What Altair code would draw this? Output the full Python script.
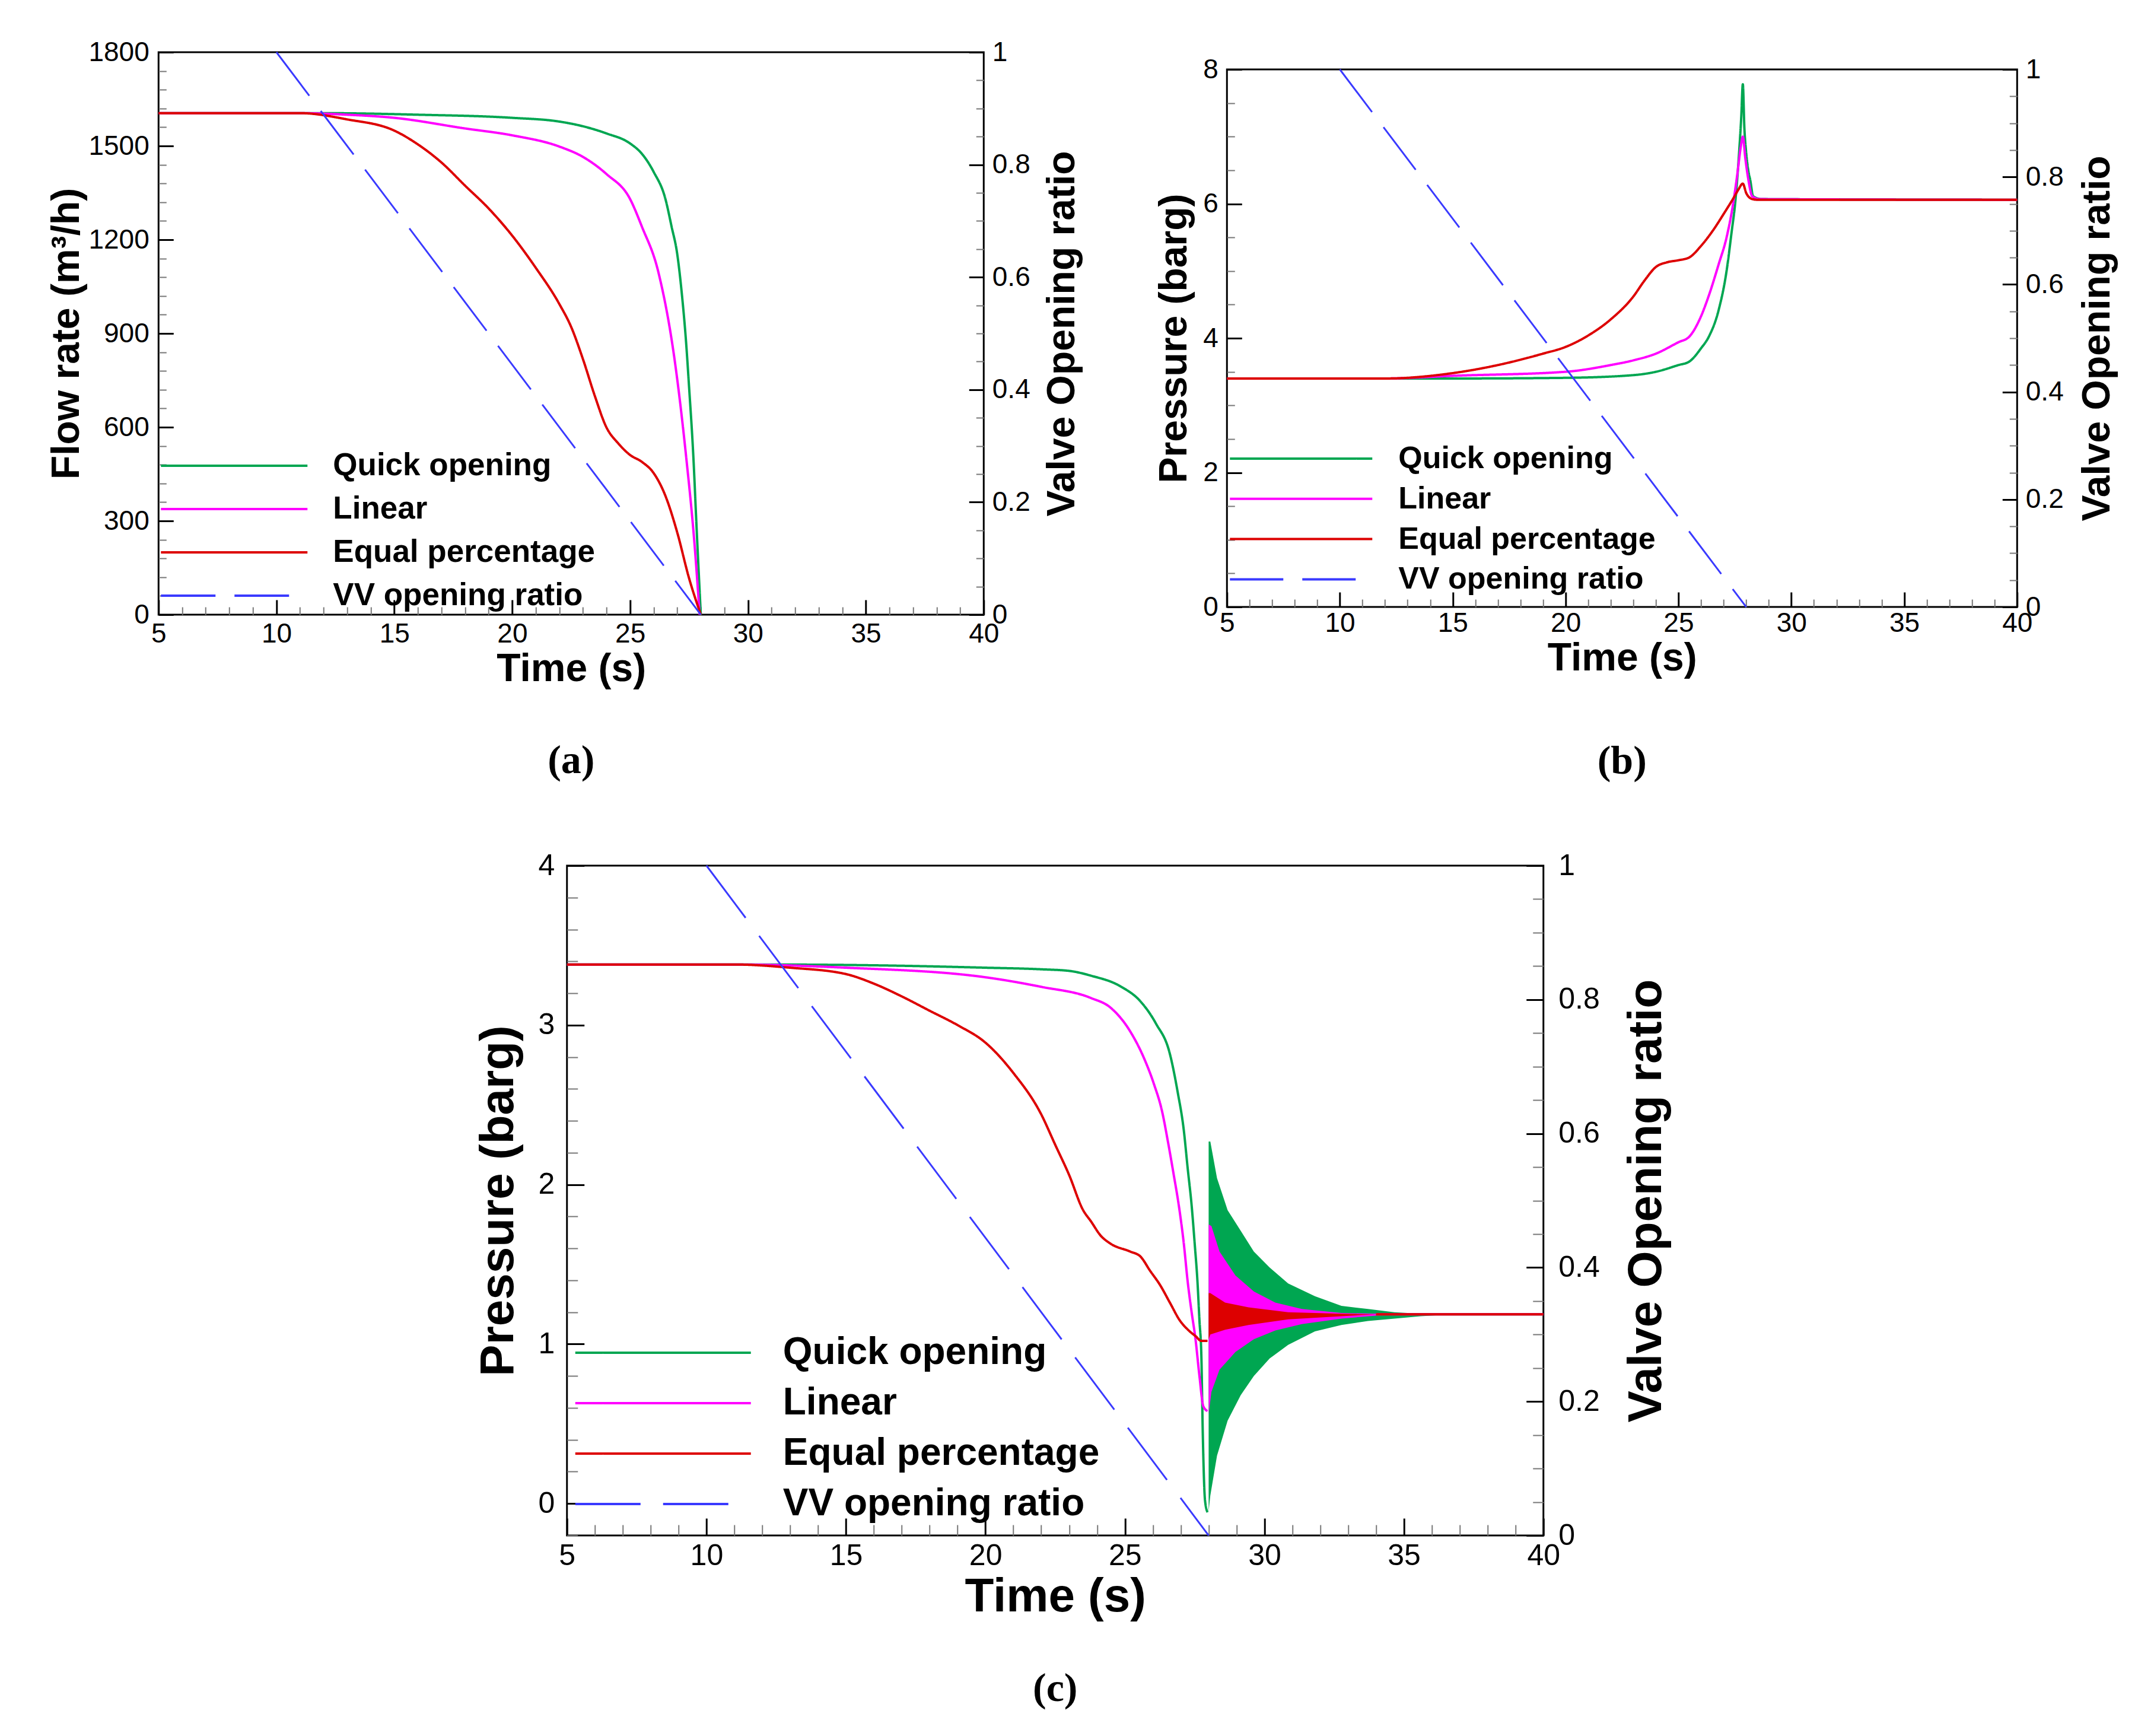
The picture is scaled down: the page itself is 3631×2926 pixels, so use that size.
import altair as alt
import pandas as pd

SERIES = ["Quick opening", "Linear", "Equal percentage", "VV opening ratio"]
COLORS = ["#00A651", "#FF00FF", "#DD0000", "#3A3AFF"]
FONT = "Liberation Sans, Arial, sans-serif"
SERIF = "Liberation Serif, DejaVu Serif, serif"

# valve opening ratio, same in every panel
vv_t = [10, 28]
vv_r = [1.0, 0.0]

# (a) flow rate, m3/h
a_quick_t = [5, 12, 16, 20, 22, 23, 24, 25, 25.5, 26, 26.5, 26.76, 27, 27.2, 27.37, 27.5, 27.68, 27.83, 28]
a_quick_v = [1605, 1605, 1600, 1590, 1578, 1563, 1540, 1508, 1475, 1417, 1330, 1242, 1154, 1023, 877, 731, 511, 263, 0]
a_lin_t = [5, 11, 13, 15, 18, 20, 22, 23, 24, 25, 25.5, 26.2, 26.91, 27.37, 27.74, 27.95]
a_lin_v = [1605, 1605, 1600, 1590, 1556, 1534, 1498, 1465, 1410, 1330, 1242, 1096, 804, 511, 219, 0]
a_eq_t = [5, 11, 13, 15, 16, 17, 18, 19, 20, 21, 22, 22.5, 23, 23.5, 24, 24.5, 25, 25.5, 26, 26.5, 27, 27.5, 28]
a_eq_v = [1605, 1605, 1585, 1549, 1505, 1447, 1373, 1300, 1213, 1110, 994, 921, 818, 701, 599, 548, 511, 489, 453, 380, 263, 117, 0]

# (b) pressure, barg
b_quick_t = [5, 15, 20, 23, 24, 25, 25.47, 26, 26.34, 26.78, 27.13, 27.35, 27.52, 27.69, 27.78, 27.85, 27.92, 27.99, 28.1, 28.18, 28.31, 28.7, 40]
b_quick_v = [3.40, 3.40, 3.41, 3.45, 3.50, 3.60, 3.65, 3.85, 4.02, 4.42, 5.00, 5.57, 6.04, 6.79, 7.29, 7.78, 7.12, 6.79, 6.48, 6.35, 6.11, 6.07, 6.06]
b_lin_t = [5, 12, 15, 20, 22, 23, 24, 25, 25.47, 25.99, 26.34, 26.78, 27.13, 27.39, 27.61, 27.76, 27.85, 27.96, 28.1, 28.27, 28.6, 40]
b_lin_v = [3.40, 3.40, 3.44, 3.50, 3.60, 3.67, 3.77, 3.94, 4.02, 4.32, 4.63, 5.10, 5.50, 5.94, 6.45, 6.85, 7.00, 6.68, 6.35, 6.11, 6.07, 6.06]
b_eq_t = [5, 12, 15, 17, 19, 20, 21, 22, 23, 23.5, 24, 24.5, 25, 25.47, 25.99, 26.52, 27.04, 27.48, 27.65, 27.85, 28.0, 28.27, 28.5, 40]
b_eq_v = [3.40, 3.40, 3.48, 3.60, 3.77, 3.87, 4.04, 4.28, 4.62, 4.86, 5.06, 5.13, 5.16, 5.20, 5.37, 5.60, 5.87, 6.11, 6.21, 6.30, 6.16, 6.07, 6.06, 6.06]

# (c) pressure, barg, with the oscillation envelopes after closure
c_quick_t = [5, 12, 16, 20, 22, 23, 23.78, 24.84, 25.55, 26.11, 26.61, 26.89, 27.11, 27.25, 27.39, 27.5, 27.6, 27.67, 27.74, 27.79, 27.87, 27.96]
c_quick_v = [3.38, 3.38, 3.375, 3.36, 3.35, 3.34, 3.31, 3.243, 3.15, 3.01, 2.82, 2.58, 2.34, 2.10, 1.87, 1.63, 1.39, 1.15, 0.92, 0.44, 0.02, -0.055]
c_lin_t = [5, 11, 15, 20, 22, 23.78, 24.48, 25.19, 25.69, 26.04, 26.33, 26.54, 26.75, 26.93, 27.11, 27.25, 27.39, 27.53, 27.67, 27.81, 27.96]
c_lin_v = [3.38, 3.38, 3.36, 3.30, 3.24, 3.17, 3.11, 2.96, 2.79, 2.63, 2.46, 2.27, 2.06, 1.87, 1.63, 1.39, 1.20, 1.03, 0.80, 0.61, 0.58]
c_eq_t = [5, 11, 13, 15, 16, 17, 18, 19, 20, 21, 22, 22.5, 23, 23.5, 23.78, 24.13, 24.48, 25.19, 25.55, 25.9, 26.26, 26.61, 26.96, 27.32, 27.53, 27.74, 27.96]
c_eq_v = [3.38, 3.38, 3.36, 3.32, 3.26, 3.18, 3.09, 3.00, 2.89, 2.70, 2.44, 2.25, 2.06, 1.84, 1.77, 1.68, 1.63, 1.58, 1.55, 1.46, 1.37, 1.26, 1.15, 1.08, 1.05, 1.02, 1.02]
c_tail_t = [34, 40]
c_tail_v = [1.187, 1.187]

c_band_quick_t = [28.0, 28.06, 28.3, 28.68, 29.15, 29.62, 30.19, 30.85, 31.81, 32.76, 33.71, 34.66, 35.6, 36.6, 37.5]
c_band_quick_hi = [2.27, 2.27, 2.04, 1.84, 1.71, 1.58, 1.48, 1.38, 1.30, 1.24, 1.22, 1.20, 1.19, 1.187, 1.187]
c_band_quick_lo = [-0.05, 0.05, 0.30, 0.52, 0.68, 0.80, 0.91, 0.995, 1.08, 1.12, 1.145, 1.16, 1.175, 1.185, 1.187]
c_band_lin_t = [28.0, 28.1, 28.39, 28.96, 29.62, 30.39, 31.34, 32.76, 34.0, 35.0]
c_band_lin_hi = [1.75, 1.74, 1.58, 1.43, 1.33, 1.26, 1.22, 1.195, 1.19, 1.187]
c_band_lin_lo = [0.56, 0.70, 0.84, 0.95, 1.03, 1.085, 1.125, 1.16, 1.178, 1.187]
c_band_eq_t = [28.0, 28.06, 28.59, 29.43, 30.85, 32.76, 34.0]
c_band_eq_hi = [1.32, 1.32, 1.26, 1.23, 1.20, 1.19, 1.187]
c_band_eq_lo = [1.03, 1.06, 1.09, 1.12, 1.155, 1.175, 1.187]

x_labels = [5, 10, 15, 20, 25, 30, 35, 40]
x_ticks = list(range(5, 41))
v_labels = [0, 0.2, 0.4, 0.6, 0.8, 1]
v_ticks = [round(i * 0.05, 2) for i in range(21)]


def lines_df(*parts):
    frames = [pd.DataFrame({"series": s, "t": t, "v": v, "seg": g}) for s, t, v, g in parts]
    return pd.concat(frames, ignore_index=True)


def tick_axis(orient, offset, values, test, big, small):
    def cond(a, b):
        return {"condition": {"test": test, "value": a}, "value": b}
    return alt.Axis(orient=orient, offset=offset, values=values, labels=False, domain=False, grid=False,
                    tickSize=cond(big, small), tickWidth=cond(3, 2), tickColor=cond("black", "#777777"),
                    title=None)


def label_axis(c, orient, values, pad, tpad, **kw):
    return alt.Axis(orient=orient, values=values, ticks=False, tickSize=0, domain=False, grid=False,
                    format=".6~g", labelFlush=False, labelOverlap=False,
                    labelFont=FONT, labelFontSize=c["lab_fs"], labelPadding=pad, labelColor="black",
                    titleFont=FONT, titleFontSize=c["title_fs"], titleFontWeight="bold",
                    titleColor="black", titlePadding=tpad, **kw)


def blank(w, h):
    return alt.Chart(pd.DataFrame({"z": [0]})).mark_point(opacity=0, size=1).encode(
        x=alt.X("z:Q", axis=None), y=alt.Y("z:Q", axis=None)
    ).properties(width=w, height=h, view=alt.ViewBackground(stroke="transparent"))


def panel(c, lines, bands=()):
    W, H = c["w"], c["h"]
    xs = alt.Scale(domain=[5, 40], nice=False, zero=False)
    ps = alt.Scale(domain=c["ydom"], nice=False, zero=False)
    vs = alt.Scale(domain=[0, 1], nice=False, zero=False)

    fs = c["leg_fs"]
    S = fs - 4
    L = c["leg_len"]
    leg = alt.Legend(orient="none", direction="vertical", title=None,
                     legendX=c["leg_x"], legendY=c["leg_y"] - fs / 2,
                     symbolType=f"M{-L / S:.3f},0H{L / S:.3f}", symbolSize=S * S, symbolStrokeWidth=4,
                     symbolOffset=L / 2 - fs / 2, labelOffset=L / 2 + c["leg_gap"] - fs / 2,
                     labelFont=FONT, labelFontSize=fs, labelFontWeight="bold", labelColor="black",
                     labelLimit=2000, rowPadding=c["leg_pitch"] - fs, padding=0)
    color = alt.Color("series:N", scale=alt.Scale(domain=SERIES, range=COLORS), legend=leg)
    dash = alt.StrokeDash("series:N", scale=alt.Scale(domain=SERIES, range=[[1, 0], [1, 0], [1, 0], c["dash"]]),
                          legend=leg)

    layers = []
    for name, bt, hi, lo in bands:
        bdf = pd.DataFrame({"t": bt, "hi": hi, "lo": lo})
        layers.append(
            alt.Chart(bdf).mark_area(color=COLORS[SERIES.index(name)], opacity=1).encode(
                x=alt.X("t:Q", scale=xs, axis=None),
                y=alt.Y("hi:Q", scale=ps, axis=None),
                y2="lo:Q",
            )
        )

    curves = alt.Chart(lines).mark_line(strokeWidth=4, interpolate="monotone").encode(
        x=alt.X("t:Q", scale=xs, title="Time (s)",
                axis=label_axis(c, "bottom", x_labels, c["pad_b"], c["tpad_b"])),
        y=alt.Y("v:Q", scale=ps, title=c["ytitle"],
                axis=label_axis(c, "left", c["ylab"], c["pad_l"], c["tpad_l"])),
        color=color,
        strokeDash=dash,
        detail="seg:N",
    )

    vv = pd.DataFrame({"series": "VV opening ratio", "t": vv_t, "r": vv_r})
    valve = alt.Chart(vv).mark_line(strokeWidth=3).encode(
        x=alt.X("t:Q", scale=xs, axis=None),
        y=alt.Y("r:Q", scale=vs, title="Valve Opening ratio",
                axis=label_axis(c, "right", v_labels, c["pad_r"], c["tpad_r"],
                                titleAngle=270, titleBaseline="top")),
        color=color,
        strokeDash=dash,
    )

    # inward pointing ticks: axes flipped onto the opposite edge
    ticks_p = alt.Chart(lines).mark_line(opacity=0).encode(
        x=alt.X("t:Q", scale=xs, axis=tick_axis("top", -H, x_ticks, "datum.value % 5 == 0", c["big"], c["small"])),
        y=alt.Y("v:Q", scale=ps, axis=tick_axis("right", -W, c["ytick"], c["ytest"], c["big"], c["small"])),
        detail="series:N",
    )
    ticks_v = alt.Chart(vv).mark_line(opacity=0).encode(
        x=alt.X("t:Q", scale=xs, axis=None),
        y=alt.Y("r:Q", scale=vs, axis=tick_axis("left", -W, v_ticks,
                                               "abs(datum.value * 5 - round(datum.value * 5)) < 0.001",
                                               c["big"], c["small"])),
    )

    layers += [curves, valve, ticks_p, ticks_v]
    return (
        alt.layer(*layers)
        .resolve_scale(x="independent", y="independent")
        .resolve_axis(x="independent", y="independent")
        .properties(
            width=W, height=H,
            title=alt.TitleParams(c["cap"], orient="bottom", anchor="middle", frame="group",
                                  font=SERIF, fontSize=68, fontWeight="bold", color="black",
                                  offset=c["cap_off"]),
        )
    )


cfg_a = dict(w=1391, h=948, ydom=[0, 1800], ylab=list(range(0, 1801, 300)), ytick=list(range(0, 1801, 60)),
             ytest="datum.value % 300 == 0", ytitle="Flow rate (m³/h)", lab_fs=46, title_fs=66,
             leg_fs=53, leg_len=247, leg_gap=43, leg_pitch=72, leg_x=4, leg_y=697,
             pad_l=16, pad_r=14, pad_b=10, tpad_b=4, tpad_l=2, tpad_r=22, big=25, small=13,
             dash=[92, 32], cap="(a)", cap_off=89)
cfg_b = dict(w=1332, h=906, ydom=[0, 8], ylab=[0, 2, 4, 6, 8], ytick=[i * 0.5 for i in range(17)],
             ytest="datum.value % 2 == 0", ytitle="Pressure (barg)", lab_fs=46, title_fs=66,
             leg_fs=52, leg_len=240, leg_gap=44, leg_pitch=67.8, leg_x=5, leg_y=656,
             pad_l=15, pad_r=14, pad_b=5, tpad_b=4, tpad_l=14, tpad_r=25, big=25, small=13,
             dash=[90, 32], cap="(b)", cap_off=108)
cfg_c = dict(w=1646, h=1129, ydom=[-0.2, 4], ylab=[0, 1, 2, 3, 4], ytick=[round(-0.2 + 0.2 * i, 1) for i in range(22)],
             ytest="abs(datum.value - round(datum.value)) < 0.001", ytitle="Pressure (barg)", lab_fs=50, title_fs=80,
             leg_fs=64, leg_len=296, leg_gap=54, leg_pitch=85, leg_x=14, leg_y=821,
             pad_l=21, pad_r=25, pad_b=9, tpad_b=5, tpad_l=25, tpad_r=40, big=29, small=18,
             dash=[110, 38], cap="(c)", cap_off=82)

chart_a = panel(cfg_a, lines_df(("Quick opening", a_quick_t, a_quick_v, 0),
                                ("Linear", a_lin_t, a_lin_v, 0),
                                ("Equal percentage", a_eq_t, a_eq_v, 0)))
chart_b = panel(cfg_b, lines_df(("Quick opening", b_quick_t, b_quick_v, 0),
                                ("Linear", b_lin_t, b_lin_v, 0),
                                ("Equal percentage", b_eq_t, b_eq_v, 0)))
chart_c = panel(cfg_c,
                lines_df(("Quick opening", c_quick_t, c_quick_v, 0),
                         ("Linear", c_lin_t, c_lin_v, 0),
                         ("Equal percentage", c_eq_t, c_eq_v, 0),
                         ("Quick opening", c_tail_t, c_tail_v, 1),
                         ("Linear", c_tail_t, c_tail_v, 1),
                         ("Equal percentage", c_tail_t, c_tail_v, 1)),
                bands=[("Quick opening", c_band_quick_t, c_band_quick_hi, c_band_quick_lo),
                       ("Linear", c_band_lin_t, c_band_lin_hi, c_band_lin_lo),
                       ("Equal percentage", c_band_eq_t, c_band_eq_hi, c_band_eq_lo)])

indep = dict(color="independent", strokeDash="independent")
col_b = alt.vconcat(blank(4, 2), chart_b, spacing=0).resolve_scale(**indep)
top = alt.hconcat(chart_a, col_b, spacing=119).resolve_scale(**indep)
bottom = alt.hconcat(chart_c, blank(60, 4), spacing=0).resolve_scale(**indep)
chart = (
    alt.vconcat(top, bottom, spacing=112, center=True)
    .resolve_scale(**indep)
    .properties(padding={"left": 70, "top": 55, "right": 5, "bottom": 5}, background="white")
    .configure_view(stroke="black", strokeWidth=3)
)

chart.save("out.html", embed_options={"renderer": "svg", "actions": False})
